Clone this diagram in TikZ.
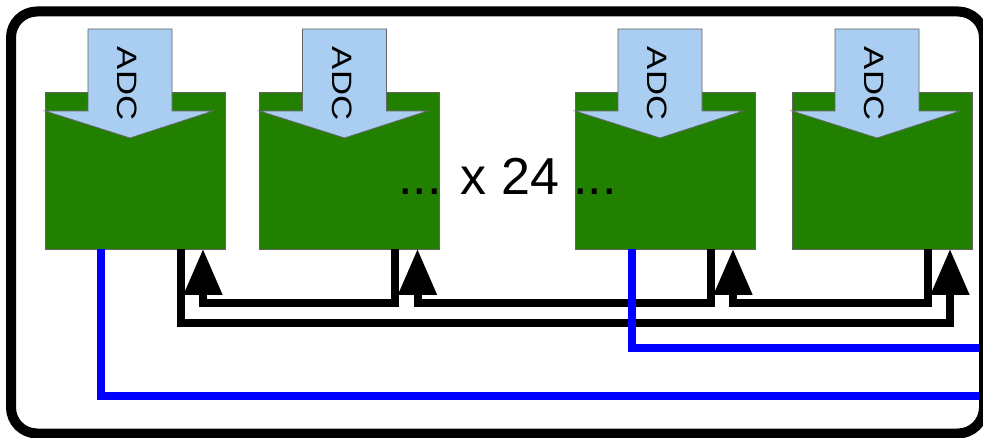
\documentclass[tikz,border=0pt]{standalone}
\usepackage{fontspec}
\setmainfont{Liberation Sans}
\usetikzlibrary{arrows.meta,calc}
\definecolor{boxgreen}{RGB}{34,128,0}
\definecolor{adcblue}{RGB}{170,206,241}
\definecolor{edgegrey}{RGB}{100,100,100}
\definecolor{sigblue}{RGB}{0,0,255}
\begin{document}
\begin{tikzpicture}[x=1pt,y=-1pt,
  card/.style={draw=edgegrey, line width=0.8pt, fill=boxgreen, minimum width=180pt, minimum height=157pt, anchor=north west, inner sep=0pt, outer sep=0pt},
  adc/.style={draw=edgegrey, line width=0.8pt, fill=adcblue, line join=miter},
  adclabel/.style={rotate=-90, font=\fontsize{28}{28}\selectfont, inner sep=0pt},
  clk/.style={line width=8pt, black, line join=miter},
  clkarrow/.style={clk, -{Triangle[width=37pt,length=46pt]}},
  sync/.style={line width=8pt, sigblue, line join=miter},
  frame/.style={line width=10pt, rounded corners=26pt}
]
\useasboundingbox (0,0) rectangle (983,438);
\clip (0,0) rectangle (983,438);
\foreach \n/\x in {1/45,2/259.5,3/575,4/792} {
  \node[card] (b\n) at (\x,92) {};
  \draw[adc] (\x+43,29) -- (\x+127,29) -- (\x+127,111) -- (\x+168,111) -- (\x+85,138) -- (\x,111) -- (\x+43,111) -- cycle;
  \node[adclabel] (adc\n) at (\x+82.5,83.5) {\scalebox{1.24}[1]{ADC}};
  \coordinate (o\n) at ($(b\n.south west)+(135.5,0)$);
  \coordinate (i\n) at ($(b\n.south west)+(158,0)$);
}
\coordinate (s1) at ($(b1.south west)+(56,0)$);
\coordinate (s3) at ($(b3.south west)+(57,0)$);
\node[font=\fontsize{52}{52}\selectfont, anchor=base, inner sep=0pt] (mult) at (507.5,195) {... x 24 ...};
\draw[clkarrow] (o2) -- ++(0,54) -| (i1);
\draw[clkarrow] (o3) -- ++(0,54) -| (i2);
\draw[clkarrow] (o4) -- ++(0,54) -| (i3);
\draw[clkarrow] (o1) -- ++(0,74) -| (i4);
\draw[sync] (s1) -- ++(0,147) -- ++(900,0);
\draw[sync] (s3) -- ++(0,99) -- ++(500,0);
\draw[frame] (11,11.5) rectangle (984,433.5);
\end{tikzpicture}
\end{document}
